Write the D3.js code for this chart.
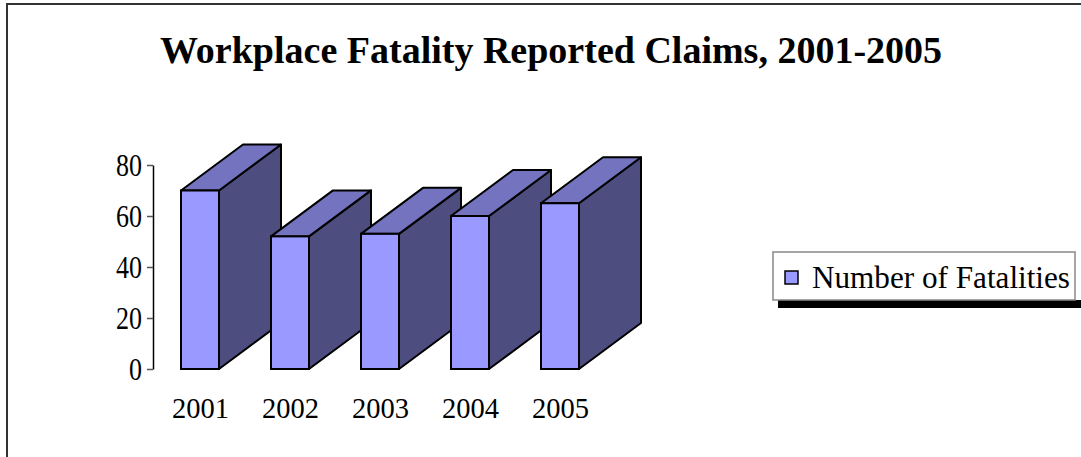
<!DOCTYPE html>
<html>
<head>
<meta charset="utf-8">
<script src="https://cdn.jsdelivr.net/npm/d3@7"></script>
<style>
  body { margin: 0; background: #fff; }
  text { font-family: "Liberation Serif", "Times New Roman", serif; fill: #000; }
</style>
</head>
<body>
<div id="chart"></div>
<script>
// chart data
const years = ["2001", "2002", "2003", "2004", "2005"];
const fatalities = [70, 52, 53, 60, 65];
const yTicks = [0, 20, 40, 60, 80];
const seriesName = "Number of Fatalities";
const chartTitle = "Workplace Fatality Reported Claims, 2001-2005";

const width = 1081, height = 457;
const depth = {dx: 62, dy: -46};   // 3d offset of the bar boxes

let svg = d3.select("#chart")
    .append("svg")
    .attr("width", width)
    .attr("height", height);

// outer frame (only left + top edges are inside the picture)
svg.append("path")
    .attr("d", "M7,460 L7,4 L1090,4")
    .attr("fill", "none")
    .attr("stroke", "#333")
    .attr("stroke-width", 2);

svg.append("text")
    .attr("x", 551)
    .attr("y", 63)
    .style("text-anchor", "middle")
    .style("font-weight", "bold")
    .style("font-size", "38px")
    .text(chartTitle);

let x = d3.scaleBand()
    .domain(years)
    .range([155, 605])
    .paddingInner(52 / 90)
    .paddingOuter(26 / 90);

let y = d3.scaleLinear()
    .domain([0, 80])
    .range([369, 165]);

// y axis
let yAxis = svg.append("g")
    .attr("transform", "translate(153,0)")
    .call(d3.axisLeft(y).tickValues(yTicks).tickSize(6).tickPadding(5).tickSizeOuter(0));
yAxis.select(".domain").attr("stroke", "#000").attr("stroke-width", 1.5);
yAxis.selectAll(".tick line").attr("stroke", "#555").attr("stroke-width", 1.5);
yAxis.selectAll(".tick text")
    .style("font-size", "31px")
    .style("font-family", "Liberation Serif, Times New Roman, serif")
    .attr("dy", "0.34em")
    .attr("textLength", d => String(d).length * 13)
    .attr("lengthAdjust", "spacingAndGlyphs");

// bars, drawn left to right so each one hides the side of the previous
let bars = svg.append("g").selectAll("g.bar")
    .data(years.map((d, i) => ({year: d, value: fatalities[i]})))
    .enter()
    .append("g")
    .attr("class", "bar");

function pts(arr) { return arr.map(p => p.join(",")).join(" "); }

bars.each(function(d) {
    let g = d3.select(this);
    let x0 = x(d.year), x1 = x0 + x.bandwidth();
    let y0 = y(0), y1 = y(d.value);
    // side face
    g.append("polygon")
        .attr("points", pts([[x1, y1], [x1 + depth.dx, y1 + depth.dy], [x1 + depth.dx, y0 + depth.dy], [x1, y0]]))
        .attr("fill", "#4d4d7f")
        .attr("stroke", "#000")
        .attr("stroke-width", 2)
        .attr("stroke-linejoin", "round");
    // top face
    g.append("polygon")
        .attr("points", pts([[x0, y1], [x0 + depth.dx, y1 + depth.dy], [x1 + depth.dx, y1 + depth.dy], [x1, y1]]))
        .attr("fill", "#7373bf")
        .attr("stroke", "#000")
        .attr("stroke-width", 2)
        .attr("stroke-linejoin", "round");
    // front face
    g.append("rect")
        .attr("x", x0)
        .attr("y", y1)
        .attr("width", x.bandwidth())
        .attr("height", y0 - y1)
        .attr("fill", "#9999ff")
        .attr("stroke", "#000")
        .attr("stroke-width", 2);
});

// category labels
svg.append("g").selectAll("text")
    .data(years)
    .enter()
    .append("text")
    .attr("x", d => x(d) + x.bandwidth() / 2 - 28)
    .attr("y", 418)
    .style("font-size", "30px")
    .attr("textLength", 57)
    .attr("lengthAdjust", "spacingAndGlyphs")
    .text(d => d);

// legend with shadow
let legend = svg.append("g");
legend.append("rect")
    .attr("x", 778).attr("y", 300)
    .attr("width", 310).attr("height", 8)
    .attr("fill", "#000");
legend.append("rect")
    .attr("x", 773).attr("y", 252)
    .attr("width", 302).attr("height", 48)
    .attr("fill", "#fff")
    .attr("stroke", "#888")
    .attr("stroke-width", 1.5);
legend.append("rect")
    .attr("x", 785).attr("y", 271)
    .attr("width", 13).attr("height", 13)
    .attr("fill", "#9999ff")
    .attr("stroke", "#000")
    .attr("stroke-width", 1.5);
legend.append("text")
    .attr("x", 812)
    .attr("y", 288)
    .style("font-size", "31px")
    .attr("textLength", 258)
    .attr("lengthAdjust", "spacingAndGlyphs")
    .text(seriesName);
</script>
</body>
</html>
